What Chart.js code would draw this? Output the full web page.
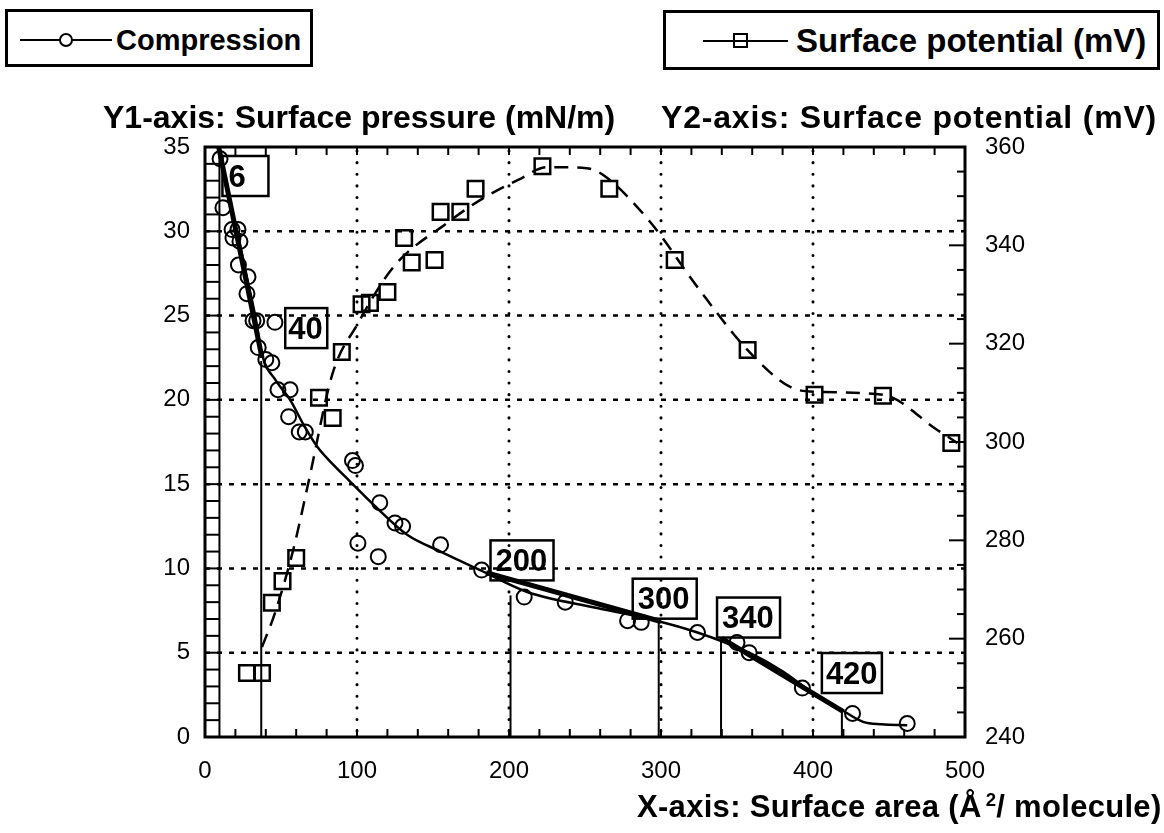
<!DOCTYPE html>
<html>
<head>
<meta charset="utf-8">
<script src="https://cdn.jsdelivr.net/npm/chart.js@4"></script>
<style>
  body { margin: 0; background: #fff; font-family: "Liberation Sans", Arial, sans-serif; }
  #wrap { position: relative; width: 1164px; height: 833px; overflow: hidden; }
  #c { position: absolute; left: 0; top: 0; }
  .lg { position: absolute; border: 3px solid #000; box-sizing: border-box; background: #fff; }
  .lg svg { position: absolute; left: 0; top: 0; }
  .lg span { position: absolute; font-weight: bold; white-space: nowrap; }
  .t { position: absolute; font-weight: bold; font-size: 32px; line-height: 32px; white-space: nowrap; }
  .t sup { font-size: 0.6em; line-height: 0; }
</style>
</head>
<body>
<div id="wrap">
  <canvas id="c" width="1164" height="833"></canvas>

  <div class="lg" style="left:5px;top:9px;width:308px;height:58px">
    <svg width="110" height="52">
      <line x1="12" y1="28" x2="104" y2="28" stroke="#000" stroke-width="2"/>
      <circle cx="58" cy="28" r="6" fill="#fff" stroke="#000" stroke-width="2"/>
    </svg>
    <span style="left:108px;top:14px;font-size:29px;line-height:29px">Compression</span>
  </div>

  <div class="lg" style="left:663px;top:10px;width:497px;height:60px">
    <svg width="130" height="54">
      <line x1="37" y1="28" x2="122" y2="28" stroke="#000" stroke-width="2"/>
      <rect x="68" y="21" width="13" height="13" fill="none" stroke="#000" stroke-width="2"/>
    </svg>
    <span style="left:130px;top:11px;font-size:33px;line-height:33px">Surface potential (mV)</span>
  </div>

  <div class="t" style="left:103px;top:101px">Y1-axis: Surface pressure (mN/m)</div>
  <div class="t" style="left:661px;top:101px;letter-spacing:0.8px">Y2-axis: Surface potential (mV)</div>
  <div class="t" style="left:637px;top:791px;font-size:31px;line-height:31px;letter-spacing:0.3px">X-axis: Surface area (&Aring;<sup>&thinsp;2</sup>/ molecule)</div>
</div>

<script>
// ===============================
// Data
// ===============================

// Compression: measured points (Y1, mN/m)
const compX = [9.9, 11.8, 17.8, 21.7, 18.4, 23, 22, 28.3, 27.6, 31.6,
               34, 46, 35, 40, 44, 48, 56, 55, 62, 66,
               97, 99, 100.6, 114, 115, 125, 130, 155, 182, 210,
               237, 278, 287, 324, 350, 358, 393, 426, 462];
const compY = [34.3, 31.4, 30.1, 30.1, 29.6, 29.4, 28.0, 27.3, 26.3, 24.7,
               24.7, 24.6, 23.1, 22.4, 22.2, 20.6, 20.6, 19.0, 18.1, 18.1,
               16.4, 16.1, 11.5, 10.7, 13.9, 12.7, 12.5, 11.4, 9.9, 8.3,
               8.0, 6.9, 6.8, 6.2, 5.6, 5.0, 2.9, 1.4, 0.8];

// Compression: fitted curve
const fitX = [9, 13, 18, 23, 28, 33, 37.5, 47, 56, 65, 74, 85, 95, 113, 133, 155, 181, 212, 258, 297, 324, 358, 380, 400, 419, 433, 445, 462];
const fitY = [35, 33.4, 31.2, 29.2, 27.1, 25.0, 22.7, 21.1, 20.0, 18.5, 17.2, 16.1, 15.2, 13.6, 12.0, 11.0, 9.9, 8.6, 7.65, 6.9, 6.2, 5.0, 3.9, 2.6, 1.6, 0.9, 0.75, 0.7];

// Thick tangent segments on the compression curve
const tangentX = [[9, 37.5], [185, 300], [340, 420]];
const tangentY = [[35, 22.5], [9.75, 6.85], [5.85, 1.5]];

// Marked areas (vertical lines up to the curve)
const markLabels = ["6", "40", "200", "300", "340", "420"];
const markX = [9.5, 37, 201, 298.5, 339.5, 419];
const markTop = [35, 22.3, 8.4, 6.9, 5.9, 1.6];

// Surface potential: measured points (Y2, mV)
const spX = [27.6, 37.5, 44, 51, 60, 75, 84, 90, 103, 108.5, 120, 131,
             136, 151, 155, 168, 178, 222, 266, 309, 357, 401, 446, 491];
const spY = [253, 253, 267.3, 271.7, 276.4, 309, 304.9, 318.3, 328, 328.3, 330.5, 341.5,
             336.5, 337, 346.8, 346.8, 351.5, 356.1, 351.5, 337, 318.7, 309.6, 309.4, 299.8];

// Surface potential: fitted curve (dashed)
const spFitX = [37.5, 46, 58, 68, 84, 100, 124, 159, 181, 206, 225, 251, 262, 293, 324, 357, 385, 403, 446, 482, 495];
const spFitY = [258.3, 265.2, 278, 291.7, 314, 323.8, 335.6, 344.5, 349.2, 353.3, 355.9, 355.7, 354.3, 344.7, 331.5, 318.7, 311.2, 310.2, 309.6, 302.4, 299.8];

// ===============================
// Helpers / style
// ===============================
const FONT = '"Liberation Sans", Arial, sans-serif';
const pts = (xs, ys) => xs.map((v, i) => ({ x: v, y: ys[i] }));

// label boxes: offset from top of the vertical line, in pixels
const boxStyle = [
  { dx: 3, dy: 9, w: 46, tx: 6 },
  { dx: 24, dy: -53, w: 42, tx: 3 },
  { dx: -20, dy: -55, w: 63, tx: 5 },
  { dx: -26, dy: -42, w: 64, tx: 5 },
  { dx: -4, dy: -40, w: 63, tx: 5 },
  { dx: -20, dy: -57, w: 60, tx: 4 }
];

function seg(ctx, x1, y1, x2, y2) {
  ctx.beginPath();
  ctx.moveTo(x1, y1);
  ctx.lineTo(x2, y2);
  ctx.stroke();
}

// grid, frame, inner ticks and the number boxes
const decor = {
  id: "decor",
  beforeDatasetsDraw(chart) {
    const { ctx, chartArea: a, scales } = chart;
    ctx.save();
    ctx.strokeStyle = "#000";

    // vertical dotted grid
    ctx.lineWidth = 3;
    ctx.lineCap = "round";
    ctx.setLineDash([0.1, 11.5]);
    scales.x.ticks.forEach(t => {
      if (t.value <= scales.x.min || t.value >= scales.x.max) return;
      const px = scales.x.getPixelForValue(t.value);
      seg(ctx, px, a.top + 4, px, a.bottom);
    });

    // horizontal dashed grid
    ctx.lineWidth = 2.5;
    ctx.lineCap = "butt";
    ctx.setLineDash([5, 7]);
    scales.y.ticks.forEach(t => {
      if (t.value <= scales.y.min || t.value >= scales.y.max) return;
      const py = scales.y.getPixelForValue(t.value);
      seg(ctx, a.left, py, a.right, py);
    });
    ctx.restore();
  },
  afterDraw(chart) {
    const { ctx, chartArea: a, scales } = chart;
    ctx.save();
    ctx.strokeStyle = "#000";
    ctx.setLineDash([]);

    // minor ticks, pointing inward
    ctx.lineWidth = 2;
    for (let v = 20; v < 500; v += 20) {
      const px = scales.x.getPixelForValue(v);
      seg(ctx, px, a.bottom, px, a.bottom - 8);
      seg(ctx, px, a.top, px, a.top + 8);
    }
    for (let v = 1; v < 35; v++) {
      const py = scales.y.getPixelForValue(v);
      seg(ctx, a.left, py, a.left + 14, py);
    }
    for (let v = 245; v < 360; v += 5) {
      const py = scales.y2.getPixelForValue(v);
      seg(ctx, a.right, py, a.right - (v % 20 === 0 ? 16 : 8), py);
    }

    // frame
    ctx.lineWidth = 3;
    ctx.strokeRect(a.left, a.top, a.right - a.left, a.bottom - a.top);

    // number boxes
    ctx.lineWidth = 2.5;
    ctx.fillStyle = "#000";
    ctx.font = "bold 31px " + FONT;
    ctx.textBaseline = "middle";
    markLabels.forEach((txt, i) => {
      const s = boxStyle[i];
      const bx = scales.x.getPixelForValue(markX[i]) + s.dx;
      const by = scales.y.getPixelForValue(markTop[i]) + s.dy;
      ctx.strokeRect(bx, by, s.w, 40);
      ctx.fillText(txt, bx + s.tx, by + 22);
    });
    ctx.restore();
  }
};

// ===============================
// Chart
// ===============================
const datasets = [
  {
    data: pts(compX, compY), yAxisID: "y", showLine: false,
    pointStyle: "circle", pointRadius: 7.5, pointBorderWidth: 2,
    pointBorderColor: "#000", pointBackgroundColor: "rgba(0,0,0,0)"
  },
  {
    data: pts(fitX, fitY), yAxisID: "y", showLine: true, pointRadius: 0,
    borderColor: "#000", borderWidth: 2.5, cubicInterpolationMode: "monotone"
  }
];

tangentX.forEach((xs, i) => {
  datasets.push({
    data: pts(xs, tangentY[i]), yAxisID: "y", showLine: true, pointRadius: 0,
    borderColor: "#000", borderWidth: 5
  });
});

markX.forEach((v, i) => {
  datasets.push({
    data: [{ x: v, y: 0 }, { x: v, y: markTop[i] }], yAxisID: "y", showLine: true,
    pointRadius: 0, borderColor: "#000", borderWidth: 2
  });
});

datasets.push({
  data: pts(spX, spY), yAxisID: "y2", showLine: false,
  pointStyle: "rect", pointRadius: 11, pointBorderWidth: 2.5,
  pointBorderColor: "#000", pointBackgroundColor: "rgba(0,0,0,0)"
});
datasets.push({
  data: pts(spFitX, spFitY), yAxisID: "y2", showLine: true, pointRadius: 0,
  borderColor: "#000", borderWidth: 2.5, borderDash: [14, 9],
  cubicInterpolationMode: "monotone"
});

const tickFont = { family: FONT, size: 24 };

new Chart(document.getElementById("c"), {
  type: "scatter",
  data: { datasets },
  options: {
    responsive: false,
    animation: false,
    layout: { padding: { top: 147, left: 0, right: 0, bottom: 0 } },
    plugins: { legend: { display: false }, tooltip: { enabled: false } },
    scales: {
      x: {
        type: "linear", min: 0, max: 500,
        afterFit: s => { s.height = 96; },
        grid: { display: false, drawTicks: false },
        border: { display: false },
        ticks: { stepSize: 100, padding: 20, color: "#000", font: tickFont, maxRotation: 0 }
      },
      y: {
        position: "left", min: 0, max: 35,
        afterFit: s => { s.width = 205; },
        grid: { display: false, drawTicks: false },
        border: { display: false },
        ticks: { stepSize: 5, padding: 15, color: "#000", font: tickFont }
      },
      y2: {
        position: "right", min: 240, max: 360,
        afterFit: s => { s.width = 199; },
        grid: { display: false, drawTicks: false },
        border: { display: false },
        ticks: { stepSize: 20, padding: 20, color: "#000", font: tickFont }
      }
    }
  },
  plugins: [decor]
});
</script>
</body>
</html>
